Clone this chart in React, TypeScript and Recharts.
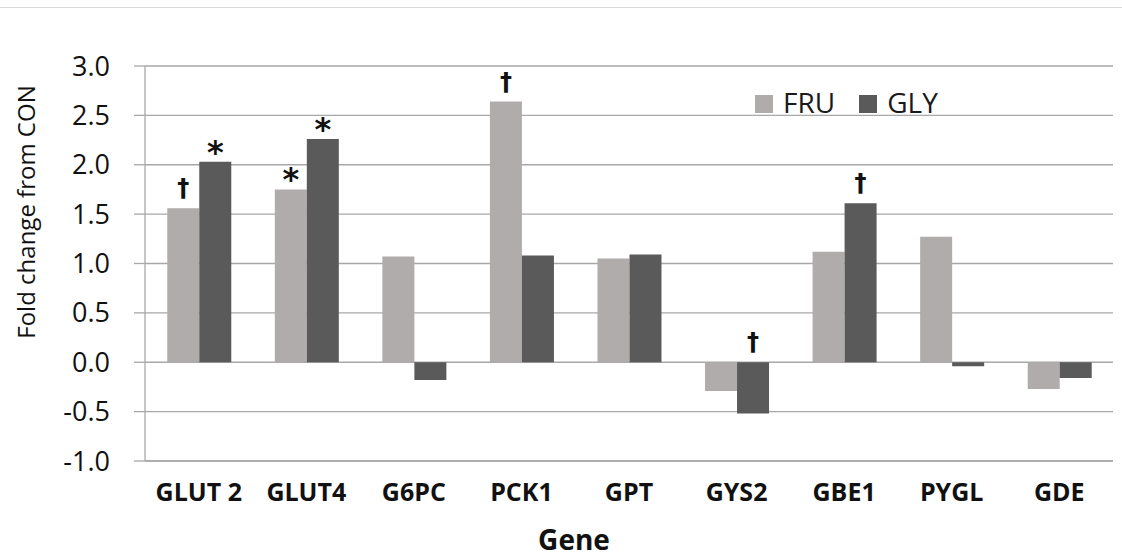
import { BarChart, Bar, XAxis, YAxis, CartesianGrid, Legend, LabelList } from 'recharts';

const genes = ['GLUT 2', 'GLUT4', 'G6PC', 'PCK1', 'GPT', 'GYS2', 'GBE1', 'PYGL', 'GDE'];
const fru = [1.56, 1.75, 1.07, 2.64, 1.05, -0.29, 1.12, 1.27, -0.27];
const gly = [2.03, 2.26, -0.18, 1.08, 1.09, -0.52, 1.61, -0.04, -0.16];
// significance marks drawn above bars
const fruMarks = ['†', '*', '', '†', '', '', '', '', ''];
const glyMarks = ['*', '*', '', '', '', '†', '†', '', ''];
const yTicks = [-1, -0.5, 0, 0.5, 1, 1.5, 2, 2.5, 3];

const FRU_COLOR = '#afacab';
const GLY_COLOR = '#5a5a5a';
const GRID = '#a8a8a8';
const FONT = '"Open Sans", "DejaVu Sans", sans-serif';

const data = genes.map((gene, i) => ({
  gene,
  fru: fru[i],
  gly: gly[i],
  fruMark: fruMarks[i],
  glyMark: glyMarks[i],
}));

const MarkLabel = (props: any) => {
  const { x, y, width, height, value } = props;
  if (!value) return null;
  // top edge of the bar (for negative bars this is the zero line)
  const top = Math.min(y, y + height);
  const cx = x + width / 2;
  if (value === '*') {
    return (
      <text x={cx} y={top + 1} textAnchor="middle" fontSize={32} fontWeight="bold" fill="#111" fontFamily="DejaVu Sans">
        *
      </text>
    );
  }
  return (
    <text x={cx} y={top - 12} textAnchor="middle" fontSize={24} fontWeight="bold" fill="#111" fontFamily="DejaVu Sans">
      †
    </text>
  );
};

const renderLegend = () => (
  <div style={{ display: 'flex', alignItems: 'flex-end', fontFamily: FONT, fontSize: 28, color: '#1a1a1a', lineHeight: '28px' }}>
    <span style={{ width: 18, height: 18, background: FRU_COLOR, display: 'inline-block', marginRight: 10, marginBottom: 3 }} />
    <span style={{ marginRight: 24 }}>FRU</span>
    <span style={{ width: 18, height: 18, background: GLY_COLOR, display: 'inline-block', marginRight: 10, marginBottom: 3 }} />
    <span>GLY</span>
  </div>
);

export default function App() {
  return (
    <div style={{ position: 'absolute', left: 0, top: 0, width: 1122, height: 558, background: '#fff' }}>
      <div style={{ position: 'absolute', left: 0, top: 7, width: 1122, borderTop: '1.5px solid #dadada' }} />
      <BarChart
        width={1122}
        height={558}
        data={data}
        margin={{ top: 66, right: 9, left: 0, bottom: 0 }}
        barCategoryGap="20.7%"
        barGap={0}
      >
        <CartesianGrid vertical={false} stroke={GRID} strokeWidth={1.3} />
        <XAxis
          dataKey="gene"
          height={97}
          axisLine={{ stroke: GRID, strokeWidth: 1.3 }}
          tickLine={false}
          tickSize={0}
          tickMargin={22}
          interval={0}
          tick={{ fill: '#111', fontSize: 25, fontWeight: 'bold', fontFamily: FONT }}
          label={{
            content: () => (
              <text x={574} y={550} textAnchor="middle" fontSize={28} fontWeight="bold" fill="#111" fontFamily={FONT}>
                Gene
              </text>
            ),
          }}
        />
        <YAxis
          width={145}
          domain={[-1, 3]}
          ticks={yTicks}
          interval={0}
          tickFormatter={(v: number) => v.toFixed(1)}
          axisLine={{ stroke: GRID, strokeWidth: 1.3 }}
          tickLine={{ stroke: GRID, strokeWidth: 1.3 }}
          tickSize={11}
          tickMargin={24}
          tick={{ fill: '#111', fontSize: 27, fontFamily: FONT }}
          label={{
            content: () => (
              <text
                x={25}
                y={212}
                transform="rotate(-90 25 212)"
                textAnchor="middle"
                dominantBaseline="central"
                fontSize={24}
                fill="#111"
                fontFamily={FONT}
              >
                Fold change from CON
              </text>
            ),
          }}
        />
        <Legend
          verticalAlign="middle"
          layout="horizontal"
          content={renderLegend}
          wrapperStyle={{ position: 'absolute', left: 755, top: 88, width: 'auto', height: 'auto' }}
        />
        <Bar dataKey="fru" name="FRU" fill={FRU_COLOR} isAnimationActive={false}>
          <LabelList dataKey="fruMark" content={MarkLabel} />
        </Bar>
        <Bar dataKey="gly" name="GLY" fill={GLY_COLOR} isAnimationActive={false}>
          <LabelList dataKey="glyMark" content={MarkLabel} />
        </Bar>
      </BarChart>
    </div>
  );
}
